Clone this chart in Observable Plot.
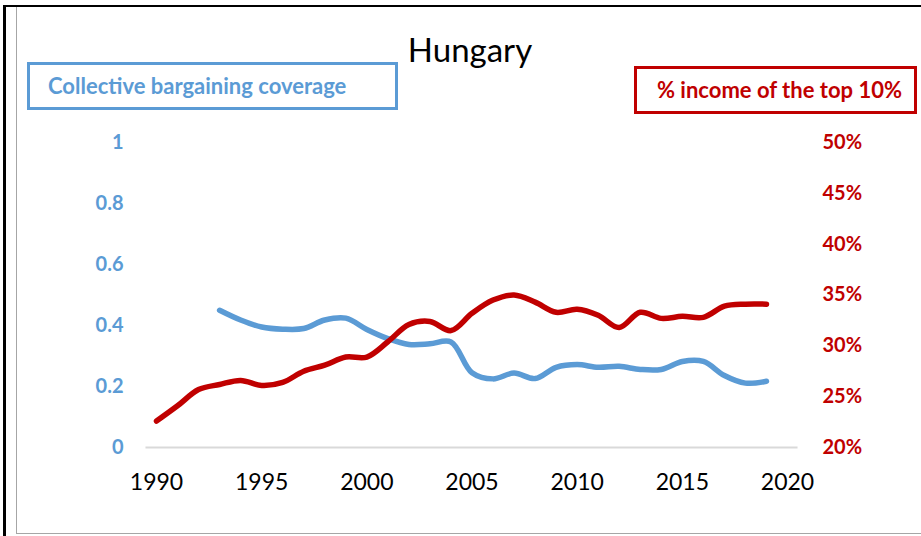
<!DOCTYPE html>
<html>
<head>
<meta charset="utf-8">
<script src="https://cdn.jsdelivr.net/npm/d3@7"></script>
<script src="https://cdn.jsdelivr.net/npm/@observablehq/plot@0.6"></script>
<style>
  body { margin: 0; background: #fff; }
  #wrap { position: relative; width: 921px; height: 536px; overflow: hidden; font-family: Lato, "Open Sans", sans-serif; background: #fff; }
  #blackL { position: absolute; left: 3px; top: 5px; width: 3px; height: 540px; background: #000; }
  #blackT { position: absolute; left: 3px; top: 5px; width: 930px; height: 2px; background: #000; }
  #grayF { position: absolute; left: 16px; top: 7px; width: 920px; height: 526px; border-left: 1px solid #a6a6a6; border-bottom: 1px solid #a6a6a6; }
  #chart { position: absolute; left: 0; top: 0; }
  #title { position: absolute; left: 370px; width: 200px; top: 33px; text-align: center; font-size: 33px; line-height: 33px; color: #000; }
  .leg { position: absolute; box-sizing: border-box; height: 48px; border-width: 3px; border-style: solid; font-weight: bold; font-size: 22px; line-height: 42px; white-space: nowrap; background: #fff; }
  #legB { left: 27px; top: 62px; width: 371px; border-color: #5B9BD5; color: #5B9BD5; padding-left: 18px; }
  #legR { left: 634px; top: 66px; width: 283px; border-color: #C00000; color: #C00000; padding-left: 20px; }
</style>
</head>
<body>
<div id="wrap">
  <div id="grayF"></div>
  <div id="chart"></div>
  <div id="blackL"></div>
  <div id="blackT"></div>
  <div id="title">Hungary</div>
  <div class="leg" id="legB">Collective bargaining coverage</div>
  <div class="leg" id="legR">% income of the top 10%</div>
</div>
<script>
const coverageYears = [1993,1994,1995,1996,1997,1998,1999,2000,2001,2002,2003,2004,2005,2006,2007,2008,2009,2010,2011,2012,2013,2014,2015,2016,2017,2018,2019];
const coverage = [0.45,0.418,0.395,0.388,0.39,0.418,0.424,0.387,0.357,0.338,0.34,0.346,0.245,0.225,0.244,0.226,0.263,0.272,0.263,0.266,0.256,0.256,0.282,0.282,0.236,0.211,0.217];
const incomeYears = [1990,1991,1992,1993,1994,1995,1996,1997,1998,1999,2000,2001,2002,2003,2004,2005,2006,2007,2008,2009,2010,2011,2012,2013,2014,2015,2016,2017,2018,2019];
const topIncome = [22.6,24.1,25.7,26.2,26.6,26.1,26.4,27.5,28.1,28.9,28.9,30.4,32.1,32.4,31.5,33.2,34.5,35.0,34.3,33.3,33.6,33.0,31.8,33.3,32.7,32.9,32.8,33.9,34.1,34.1];
const xTicks = [1990,1995,2000,2005,2010,2015,2020];
const leftTicks = [0,0.2,0.4,0.6,0.8,1];
const rightTicks = [20,25,30,35,40,45,50];

const BLUE = "#5B9BD5", RED = "#C00000";
const rMin = 20, rMax = 50;
const toLeft = v => (v - rMin) / (rMax - rMin);
const fromLeft = d => Math.round(d * (rMax - rMin) + rMin);

const blueData = coverageYears.map((y, i) => ({year: y, value: coverage[i]}));
const redData = incomeYears.map((y, i) => ({year: y, value: toLeft(topIncome[i])}));

const chart = Plot.plot({
  width: 921,
  height: 536,
  marginLeft: 156,
  marginRight: 134,
  marginTop: 142,
  marginBottom: 89,
  style: {fontFamily: "Lato, 'Open Sans', sans-serif", background: "transparent", overflow: "visible"},
  x: {domain: [1990, 2020]},
  y: {domain: [0, 1]},
  marks: [
    Plot.ruleY([0], {x1: 1989.5, x2: 2020.5, stroke: "#d9d9d9", strokeWidth: 2}),
    Plot.axisX({ticks: xTicks, tickFormat: d => String(d), tickSize: 0, tickPadding: 26, fontSize: 23, fill: "#000", label: null}),
    Plot.axisY({anchor: "left", ticks: leftTicks, tickFormat: d => String(d), tickSize: 0, tickPadding: 33, fontSize: 20, fontWeight: "bold", fill: BLUE, label: null}),
    Plot.axisY({anchor: "right", ticks: rightTicks.map(toLeft), tickFormat: d => fromLeft(d) + "%", tickSize: 0, tickPadding: 35, fontSize: 20, fontWeight: "bold", fill: RED, label: null}),
    Plot.line(blueData, {x: "year", y: "value", stroke: BLUE, strokeWidth: 5.5, curve: "catmull-rom"}),
    Plot.line(redData, {x: "year", y: "value", stroke: RED, strokeWidth: 5.5, curve: "catmull-rom"})
  ]
});
document.getElementById("chart").appendChild(chart);
</script>
</body>
</html>
